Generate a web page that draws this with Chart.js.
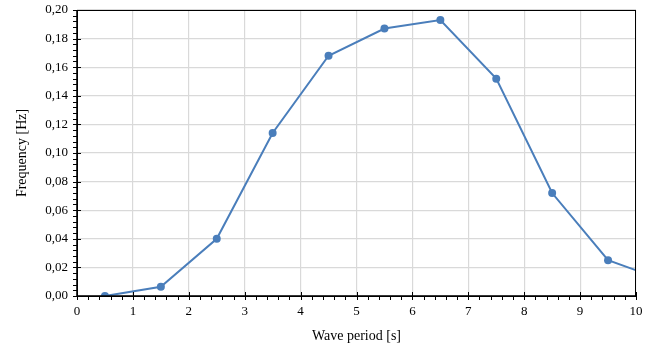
<!DOCTYPE html>
<html><head><meta charset="utf-8">
<script src="https://cdn.jsdelivr.net/npm/chart.js@4/dist/chart.umd.min.js"></script>
<style>html,body{margin:0;padding:0;background:#fff;}canvas{display:block;}</style>
</head><body>
<canvas id="c" width="655" height="349"></canvas>
<script>
const wavePeriods = [0.5, 1.5, 2.5, 3.5, 4.5, 5.5, 6.5, 7.5, 8.5, 9.5, 10.5];
const frequencies = [0.000, 0.0065, 0.040, 0.114, 0.168, 0.187, 0.193, 0.152, 0.072, 0.025, 0.011];
const xTickValues = [0,1,2,3,4,5,6,7,8,9,10];
const yTickValues = [0,0.02,0.04,0.06,0.08,0.10,0.12,0.14,0.16,0.18,0.20];

const FONT = '"Liberation Serif", "Times New Roman", serif';
const PL = 77, PR = 636, PT = 10, PB = 296, W = 655, H = 349;

const tickPlugin = {
  id: 'ticks',
  afterDraw(chart) {
    const ctx = chart.ctx, xs = chart.scales.x, ys = chart.scales.y;
    const a = chart.chartArea;
    ctx.save();
    ctx.strokeStyle = '#000';
    ctx.lineWidth = 1;
    ctx.strokeRect(a.left + 0.5, a.top + 0.5, a.right - a.left - 1, a.bottom - a.top);
    ctx.lineWidth = 1.5;
    ctx.beginPath(); ctx.moveTo(a.left, a.bottom); ctx.lineTo(a.right, a.bottom); ctx.stroke();
    ctx.beginPath(); ctx.moveTo(a.left, a.top); ctx.lineTo(a.left, a.bottom); ctx.stroke();
    ctx.lineWidth = 1;
    ctx.beginPath();
    for (let i = 0; i <= 50; i++) {
      const v = i * 0.2;
      const px = Math.round(xs.getPixelForValue(v)) + 0.5;
      if (i % 5 === 0) { ctx.moveTo(px, a.bottom - 4); ctx.lineTo(px, a.bottom + 4); }
      else { ctx.moveTo(px, a.bottom); ctx.lineTo(px, a.bottom + 4); }
    }
    for (let i = 0; i <= 50; i++) {
      const v = i * 0.004;
      const py = Math.round(ys.getPixelForValue(v)) + 0.5;
      if (i % 5 === 0) { ctx.moveTo(a.left - 4, py); ctx.lineTo(a.left + 4, py); }
      else { ctx.moveTo(a.left - 4, py); ctx.lineTo(a.left, py); }
    }
    ctx.stroke();
    ctx.restore();
  }
};

new Chart(document.getElementById('c'), {
  type: 'line',
  data: {
    datasets: [{
      data: wavePeriods.map((x, i) => ({x, y: frequencies[i]})),
      borderColor: '#4a7ebb',
      backgroundColor: '#4a7ebb',
      borderWidth: 2,
      pointRadius: 4,
      pointBorderWidth: 0,
      pointHoverRadius: 4,
      tension: 0,
      clip: 0
    }]
  },
  options: {
    responsive: false,
    animation: false,
    devicePixelRatio: 1,
    layout: { padding: { left: 0, right: W - PR, top: PT, bottom: 0 } },
    plugins: { legend: { display: false }, tooltip: { enabled: false } },
    scales: {
      x: {
        type: 'linear', min: 0, max: 10,
        afterFit(s) { s.height = H - PB; s.paddingLeft = 0; s.paddingRight = 0; },
        afterBuildTicks(s) { s.ticks = xTickValues.map(v => ({value: v})); },
        grid: { color: '#d9d9d9', lineWidth: 1.2, drawTicks: false },
        border: { display: false },
        ticks: { color: '#000', font: { family: FONT, size: 13 }, padding: 8, maxRotation: 0, callback: v => String(v) },
        title: { display: true, text: 'Wave period [s]', color: '#000', font: { family: FONT, size: 14 }, padding: { top: 5 } }
      },
      y: {
        type: 'linear', min: 0, max: 0.2,
        afterFit(s) { s.width = PL; s.paddingTop = 0; s.paddingBottom = 0; },
        afterBuildTicks(s) { s.ticks = yTickValues.map(v => ({value: v})); },
        grid: { color: '#d9d9d9', lineWidth: 1.2, drawTicks: false },
        border: { display: false },
        ticks: { color: '#000', font: { family: FONT, size: 13 }, padding: 9, callback: v => Number(v).toFixed(2).replace('.', ',') },
        title: { display: true, text: 'Frequency [Hz]', color: '#000', font: { family: FONT, size: 14 }, padding: { top: 14, bottom: 4 } }
      }
    }
  },
  plugins: [tickPlugin]
});
</script>
</body></html>
